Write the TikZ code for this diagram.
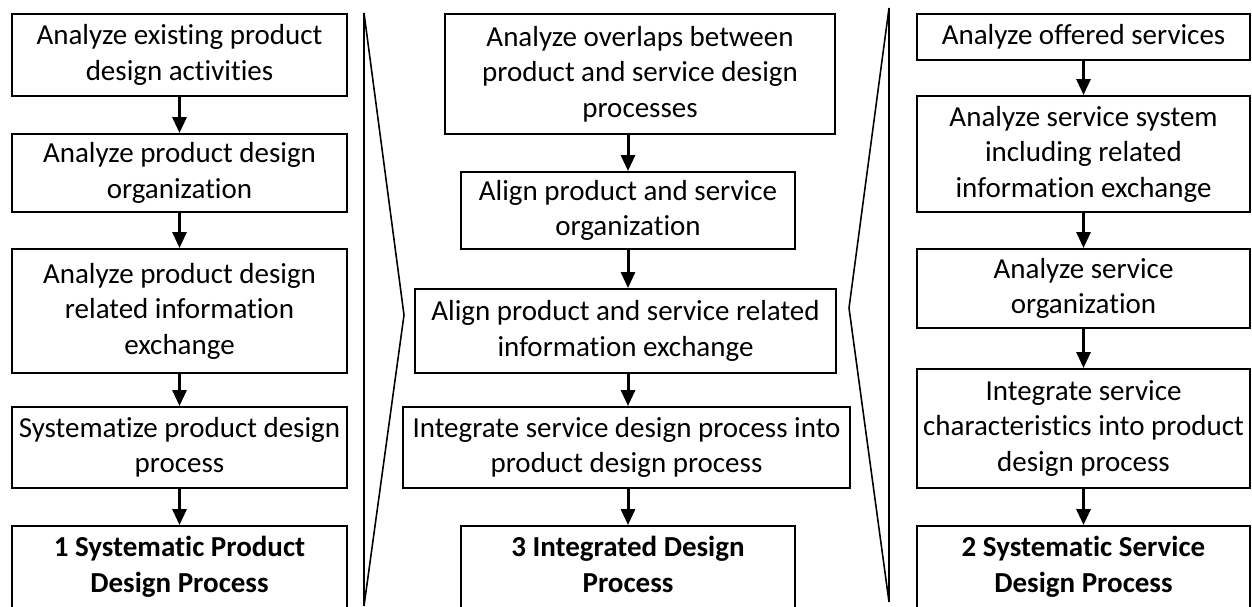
\documentclass[tikz,border=0pt]{standalone}
\usepackage{fontspec}
\setmainfont[Ligatures=NoCommon]{Carlito}
\usetikzlibrary{arrows.meta}
\usetikzlibrary{positioning}

\tikzset{
  stepbox/.style={draw=black,line width=1.1pt,align=center,inner sep=1pt,
    font=\fontsize{16.5pt}{20.2pt}\selectfont},
  resultbox/.style={stepbox,font=\fontsize{16.5pt}{20.2pt}\selectfont\bfseries},
  flow/.style={line width=1.7pt,-{Triangle[width=0.28cm,length=0.32cm]}},
  divider/.style={line width=0.9pt,line join=miter}
}

\begin{document}
\begin{tikzpicture}
\useasboundingbox (0,0) rectangle (25.04,-12.12);

% product design column
\node[stepbox,minimum width=6.70cm,minimum height=1.64cm] (pd1) at (3.59,-1.10) {Analyze existing product\\design activities};
\node[stepbox,minimum width=6.70cm,minimum height=1.56cm] (pd2) at (3.59,-3.46) {Analyze product design\\organization};
\node[stepbox,minimum width=6.70cm,minimum height=2.48cm] (pd3) at (3.59,-6.22) {Analyze product design\\related information\\exchange};
\node[stepbox,minimum width=6.70cm,minimum height=1.62cm] (pd4) at (3.59,-8.95) {Systematize product design\\process};
\node[resultbox,minimum width=6.70cm,minimum height=1.64cm] (pd5) at (3.59,-11.34) {1 Systematic Product\\Design Process};
\draw[flow] (pd1) -- (pd2);
\draw[flow] (pd2) -- (pd3);
\draw[flow] (pd3) -- (pd4);
\draw[flow] (pd4) -- (pd5);

% integrated column
\node[stepbox,minimum width=7.80cm,minimum height=2.40cm] (ig1) at (12.80,-1.48) {Analyze overlaps between\\product and service design\\processes};
\node[stepbox,minimum width=6.68cm,minimum height=1.54cm] (ig2) at (12.56,-4.21) {Align product and service\\organization};
\node[stepbox,minimum width=8.42cm,minimum height=1.68cm] (ig3) at (12.51,-6.62) {Align product and service related\\information exchange};
\node[stepbox,minimum width=8.94cm,minimum height=1.62cm] (ig4) at (12.53,-8.95) {Integrate service design process into\\product design process};
\node[resultbox,minimum width=6.68cm,minimum height=1.64cm] (ig5) at (12.56,-11.34) {3 Integrated Design\\Process\vphantom{g}};
\draw[flow] (ig1.south -| ig2) -- (ig2);
\draw[flow] (ig2) -- (ig2 |- ig3.north);
\draw[flow] (ig3.south -| ig2) -- (ig2 |- ig4.north);
\draw[flow] (ig4.south -| ig2) -- (ig5);

% service design column
\node[stepbox,minimum width=6.66cm,minimum height=0.92cm] (sd1) at (21.67,-0.74) {Analyze offered services};
\node[stepbox,minimum width=6.66cm,minimum height=2.32cm] (sd2) at (21.67,-3.08) {Analyze service system\\including related\\information exchange};
\node[stepbox,minimum width=6.66cm,minimum height=1.58cm] (sd3) at (21.67,-5.77) {Analyze service\\organization};
\node[stepbox,minimum width=6.66cm,minimum height=2.38cm] (sd4) at (21.67,-8.57) {Integrate service\\characteristics into product\\design process};
\node[resultbox,minimum width=6.66cm,minimum height=1.64cm] (sd5) at (21.67,-11.34) {2 Systematic Service\\Design Process};
\draw[flow] (sd1) -- (sd2);
\draw[flow] (sd2) -- (sd3);
\draw[flow] (sd3) -- (sd4);
\draw[flow] (sd4) -- (sd5);

% chevron dividers
\draw[divider] (7.28,-0.26) -- (7.28,-12.12);
\draw[divider] (7.28,-0.26) -- (8.08,-6.30) -- (7.28,-12.12);
\draw[divider] (17.78,-0.16) -- (17.78,-12.04);
\draw[divider] (17.78,-0.16) -- (16.98,-6.16) -- (17.78,-12.04);

\end{tikzpicture}
\end{document}
